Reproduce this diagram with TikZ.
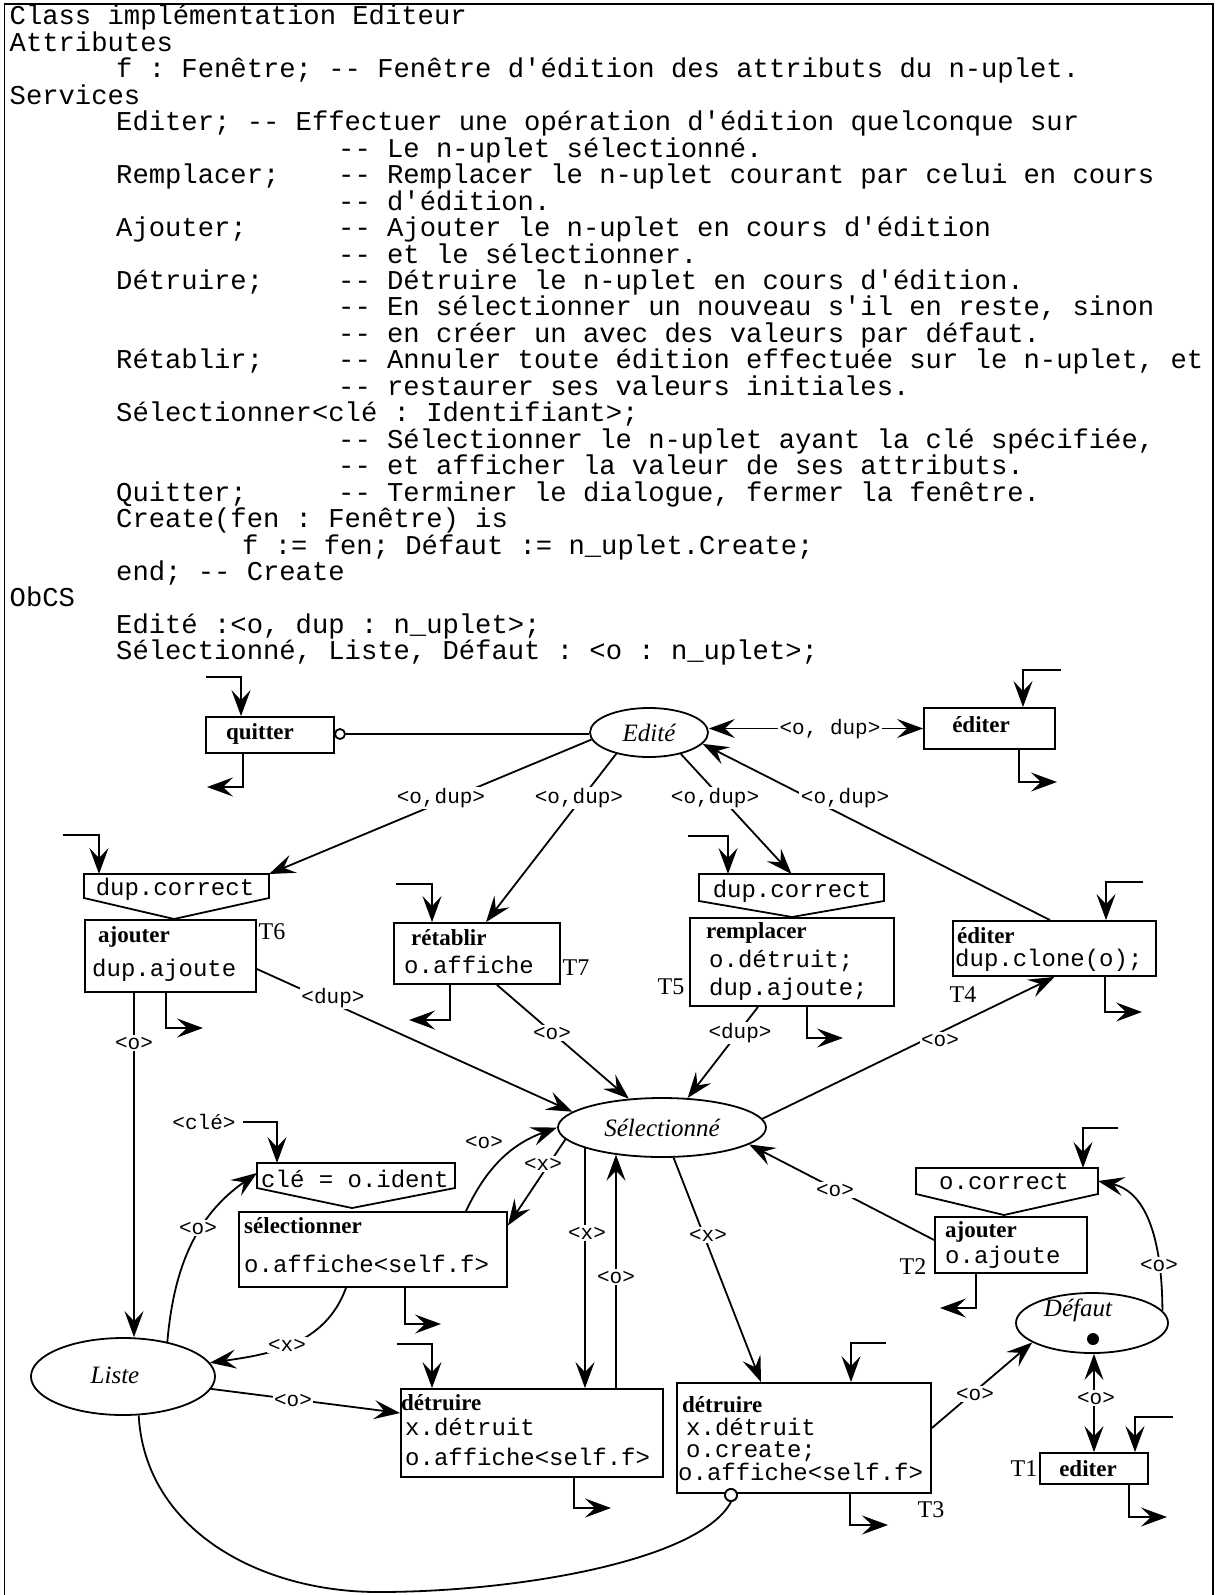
\documentclass[tikz,border=0pt]{standalone}
\usepackage{fontspec}
\setmainfont{Liberation Serif}
\setmonofont{Liberation Mono}
\usetikzlibrary{arrows.meta,shapes.geometric}
\tikzset{
  ln/.style={line width=1.8pt},
  conn/.style={ln, line join=miter, -{Stealth[length=26pt,width=19pt,inset=10pt]}},
  dconn/.style={ln, {Stealth[length=26pt,width=19pt,inset=10pt]}-{Stealth[length=26pt,width=19pt,inset=10pt]}},
  tbox/.style={draw, ln, rectangle, inner sep=0pt},
  plc/.style={draw, ln, ellipse, inner sep=0pt, font=\fontsize{25}{25}\selectfont\itshape},
  ptxt/.style={inner sep=0pt, font=\fontsize{25}{25}\selectfont\itshape},
  guard/.style={rectangle, inner sep=0pt, outer sep=0pt},
  hdr/.style={anchor=base west, inner sep=0pt, font=\fontsize{27.2}{26.5}\selectfont\ttfamily},
  codetxt/.style={anchor=base west, inner sep=0pt, font=\fontsize{24}{24}\selectfont\ttfamily},
  tname/.style={anchor=base west, inner sep=0pt, font=\fontsize{23}{23}\selectfont\bfseries},
  tid/.style={inner sep=0pt, font=\fontsize{24}{24}\selectfont},
  lbl/.style={fill=white, inner sep=1.5pt, font=\fontsize{21}{21}\selectfont\ttfamily},
  inh/.style={draw, ln, circle, fill=white, inner sep=0pt},
}
\begin{document}
\begin{tikzpicture}[x=1pt,y=-1pt]
\useasboundingbox (0,0) rectangle (1215,1595);
\fill[white] (0,0) rectangle (1215,1595);
\draw[ln] (4.5,1595) -- (4.5,4) -- (1213,4) -- (1213,1595);

% ---------------- header text ----------------
\node[hdr] (h1)  at (9.5,25)     {Class implémentation Editeur};
\node[hdr] (h2)  at (9.5,51.45)  {Attributes};
\node[hdr] (h3)  at (116,77.9)   {f : Fenêtre; -- Fenêtre d'édition des attributs du n-uplet.};
\node[hdr] (h4)  at (9.5,104.35) {Services};
\node[hdr] (h5)  at (116,130.8)  {Editer; -- Effectuer une opération d'édition quelconque sur};
\node[hdr] (h6)  at (338,157.25) {-- Le n-uplet sélectionné.};
\node[hdr] (h7a) at (116,183.7)  {Remplacer;};
\node[hdr] (h7b) at (338,183.7)  {-- Remplacer le n-uplet courant par celui en cours};
\node[hdr] (h8)  at (338,210.15) {-- d'édition.};
\node[hdr] (h9a) at (116,236.6)  {Ajouter;};
\node[hdr] (h9b) at (338,236.6)  {-- Ajouter le n-uplet en cours d'édition};
\node[hdr] (h10) at (338,263.05) {-- et le sélectionner.};
\node[hdr] (h11a) at (116,289.5) {Détruire;};
\node[hdr] (h11b) at (338,289.5) {-- Détruire le n-uplet en cours d'édition.};
\node[hdr] (h12) at (338,315.95) {-- En sélectionner un nouveau s'il en reste, sinon};
\node[hdr] (h13) at (338,342.4)  {-- en créer un avec des valeurs par défaut.};
\node[hdr] (h14a) at (116,368.85) {Rétablir;};
\node[hdr] (h14b) at (338,368.85) {-- Annuler toute édition effectuée sur le n-uplet, et};
\node[hdr] (h15) at (338,395.3)  {-- restaurer ses valeurs initiales.};
\node[hdr] (h16) at (116,421.75) {Sélectionner<clé : Identifiant>;};
\node[hdr] (h17) at (338,448.2)  {-- Sélectionner le n-uplet ayant la clé spécifiée,};
\node[hdr] (h18) at (338,474.65) {-- et afficher la valeur de ses attributs.};
\node[hdr] (h19a) at (116,501.1) {Quitter;};
\node[hdr] (h19b) at (338,501.1) {-- Terminer le dialogue, fermer la fenêtre.};
\node[hdr] (h20) at (116,527.55) {Create(fen : Fenêtre) is};
\node[hdr] (h21) at (242,554)    {f := fen; Défaut := n\_uplet.Create;};
\node[hdr] (h22) at (116,580.45) {end; -- Create};
\node[hdr] (h23) at (9.5,606.9)  {ObCS};
\node[hdr] (h24) at (116,633.35) {Edité :<o, dup : n\_uplet>;};
\node[hdr] (h25) at (116,659.8)  {Sélectionné, Liste, Défaut : <o : n\_uplet>;};

% ---------------- transitions ----------------
\node[tbox, minimum width=128pt, minimum height=36pt] (quitter) at (270,735) {};
\node[tbox, minimum width=131pt, minimum height=41pt] (edtop) at (989.5,728.5) {};
\node[tbox, minimum width=171pt, minimum height=72pt] (ajT6) at (170.5,956) {};
\node[tbox, minimum width=166pt, minimum height=61pt] (ret) at (477,953.5) {};
\node[tbox, minimum width=204pt, minimum height=88pt] (rem) at (792,962) {};
\node[tbox, minimum width=203pt, minimum height=55pt] (edT4) at (1054.5,948.5) {};
\node[tbox, minimum width=268pt, minimum height=75pt] (selr) at (373,1249.5) {};
\node[tbox, minimum width=262pt, minimum height=88pt] (detL) at (532,1433) {};
\node[tbox, minimum width=254pt, minimum height=110pt] (detT3) at (804,1438) {};
\node[tbox, minimum width=152pt, minimum height=56pt] (ajT2) at (1011,1245) {};
\node[tbox, minimum width=108pt, minimum height=31pt] (edT1) at (1094,1468.5) {};

% guards
\node[guard, minimum width=185pt, minimum height=24pt] (g1) at (176.5,886) {};
\coordinate (g1p) at (174,919);
\draw[ln, line join=miter] (g1.north west) -- (g1.north east) -- (g1.south east) -- (g1p) -- (g1.south west) -- cycle;
\node[guard, minimum width=185pt, minimum height=27pt] (g2) at (791.5,887.5) {};
\coordinate (g2p) at (792,917);
\draw[ln, line join=miter] (g2.north west) -- (g2.north east) -- (g2.south east) -- (g2p) -- (g2.south west) -- cycle;
\node[guard, minimum width=198pt, minimum height=25pt] (g3) at (356,1175.5) {};
\coordinate (g3p) at (352,1208);
\draw[ln, line join=miter] (g3.north west) -- (g3.north east) -- (g3.south east) -- (g3p) -- (g3.south west) -- cycle;
\node[guard, minimum width=182pt, minimum height=26pt] (g4) at (1007,1181) {};
\coordinate (g4p) at (1004,1215);
\draw[ln, line join=miter] (g4.north west) -- (g4.north east) -- (g4.south east) -- (g4p) -- (g4.south west) -- cycle;

% places
\node[plc, minimum width=118pt, minimum height=49pt] (edite) at (649,732.5) {Edité};
\node[plc, minimum width=208pt, minimum height=59pt] (sel) at (662,1127.5) {Sélectionné};
\node[plc, minimum width=184pt, minimum height=77pt] (liste) at (123,1376.5) {};
\node[ptxt] (listet) at (115,1375) {Liste};
\node[plc, minimum width=152pt, minimum height=60pt] (def) at (1092,1323) {};
\node[ptxt] (deft) at (1078,1310) {Défaut};
\node[circle, fill=black, inner sep=0pt, minimum size=12pt] (tok) at (1093,1339) {};

% texts in transitions
\node[tname, anchor=base] (tq) at (260,739) {quitter};
\node[tname, anchor=base] (tet) at (981,732) {éditer};
\node[tname] (t6a) at (98,942) {ajouter};
\node[codetxt] (t6b) at (92,976) {dup.ajoute};
\node[tid] (T6) at (272,932) {T6};
\node[tname] (t7a) at (411,945) {rétablir};
\node[codetxt] (t7b) at (404,973) {o.affiche};
\node[tid] (T7) at (576,968) {T7};
\node[tname] (t5a) at (706,938) {remplacer};
\node[codetxt] (t5b) at (709,967) {o.détruit;};
\node[codetxt] (t5c) at (709,995) {dup.ajoute;};
\node[tid] (T5) at (671,987) {T5};
\node[tname] (t4a) at (957,943) {éditer};
\node[codetxt] (t4b) at (955,966) {dup.clone(o);};
\node[tid] (T4) at (963,995) {T4};
\node[tname] (tsa) at (244,1233) {sélectionner};
\node[codetxt] (tsb) at (244,1272) {o.affiche<self.f>};
\node[tname] (tda) at (401,1410) {détruire};
\node[codetxt] (tdb) at (405,1435) {x.détruit};
\node[codetxt] (tdc) at (405,1465) {o.affiche<self.f>};
\node[tname] (t3a) at (682,1412) {détruire};
\node[codetxt] (t3b) at (686,1435) {x.détruit};
\node[codetxt] (t3c) at (686,1457) {o.create;};
\node[codetxt] (t3d) at (678,1480) {o.affiche<self.f>};
\node[tid] (T3) at (931,1510) {T3};
\node[tname] (t2a) at (945,1237) {ajouter};
\node[codetxt] (t2b) at (945,1263) {o.ajoute};
\node[tid] (T2) at (913,1267) {T2};
\node[tname, anchor=base] (t1a) at (1088,1476) {editer};
\node[tid] (T1) at (1024,1469) {T1};
\node[codetxt, anchor=base] (gt1) at (175,895) {dup.correct};
\node[codetxt, anchor=base] (gt2) at (792,897) {dup.correct};
\node[codetxt] (gt3) at (261,1187) {clé = o.ident};
\node[codetxt, anchor=base] (gt4) at (1004,1189) {o.correct};

% ---------------- connectors ----------------
\node[inh, minimum size=10pt] (inh1) at (340,734) {};
\draw[ln] (inh1.east) -- (inh1.east -| edite.west);
\draw[dconn] (edtop.west) -- (edtop.west -| edite.east);
\draw[conn] (edite.187) -- (g1.north east);
\draw[conn] (edite.213) -- ([xshift=9pt]ret.north);
\draw[conn] (edite.326) -- (g2.north);
\draw[conn] ([xshift=-4.5pt]edT4.north) -- (edite.348);

% stubs
\coordinate (qin) at (206,677);
\draw[conn] (qin) -| ([xshift=-29pt]quitter.north);
\coordinate (qout) at (207,787);
\draw[conn] ([xshift=-27pt]quitter.south) |- (qout);
\coordinate (etin) at (1061,670);
\draw[conn] (etin) -| ([xshift=33.5pt]edtop.north);
\coordinate (etout) at (1057,782);
\draw[conn] ([xshift=29.5pt]edtop.south) |- (etout);
\coordinate (g1in) at (63,835);
\draw[conn] (g1in) -| ([xshift=-77.5pt]g1.north);
\coordinate (a6out) at (203,1028);
\draw[conn] ([xshift=-4.5pt]ajT6.south) |- (a6out);
\coordinate (rin) at (396,884);
\draw[conn] (rin) -| ([xshift=-45pt]ret.north);
\coordinate (rout) at (409,1020);
\draw[conn] ([xshift=-27pt]ret.south) |- (rout);
\coordinate (g2in) at (688,836);
\draw[conn] (g2in) -| ([xshift=-63.5pt]g2.north);
\coordinate (remout) at (843,1038);
\draw[conn] ([xshift=15pt]rem.south) |- (remout);
\coordinate (e4in) at (1143,882);
\draw[conn] (e4in) -| ([xshift=51.5pt]edT4.north);
\coordinate (e4out) at (1142,1012);
\draw[conn] ([xshift=50.5pt]edT4.south) |- (e4out);
\coordinate (selout) at (441,1324);
\draw[conn] ([xshift=32pt]selr.south) |- (selout);
\coordinate (dLin) at (397,1344);
\draw[conn] (dLin) -| ([xshift=-100pt]detL.north);
\coordinate (dLout) at (611,1508);
\draw[conn] ([xshift=42pt]detL.south) |- (dLout);
\coordinate (d3in) at (886,1343);
\draw[conn] (d3in) -| ([xshift=47pt]detT3.north);
\coordinate (d3out) at (888,1525);
\draw[conn] ([xshift=46pt]detT3.south) |- (d3out);
\coordinate (g4in) at (1118,1128);
\draw[conn] (g4in) -| ([xshift=76pt]g4.north);
\coordinate (a2out) at (940,1308);
\draw[conn] ([xshift=-35pt]ajT2.south) |- (a2out);
\coordinate (e1in) at (1173,1417);
\draw[conn] (e1in) -| ([xshift=41pt]edT1.north);
\coordinate (e1out) at (1167,1517);
\draw[conn] ([xshift=35pt]edT1.south) |- (e1out);

% arcs
\draw[conn] ([xshift=-36.5pt]ajT6.south) -- ([xshift=-36.5pt]ajT6.south |- liste.north);
\draw[conn] ([yshift=-13pt]ajT6.east) -- (sel.170);
\draw[conn] ([xshift=20pt]ret.south) -- (sel.139);
\draw[conn] ([xshift=-34pt]rem.south) -- (sel.49);
\draw[conn] (sel.5) -- (edT4.south);
\draw[conn] ([yshift=5pt]ajT2.west) -- (sel.-11);
\draw[conn] ([xshift=93pt]selr.north) to[out=65,in=200] (sel.west);
\draw[conn] (sel.187) -- ([yshift=24pt]selr.east);
\draw[conn] ([xshift=-27pt]selr.south) to[out=-110,in=8] (liste.9);
\draw[conn] (liste.38) to[out=85,in=215] ([yshift=-10pt]g3.north west);
\draw[conn] (liste.-8) -- ([yshift=20pt]detL.west);
\draw[conn] (sel.195) -- (sel.195 |- detL.north);
\draw[conn] ([xshift=84pt]detL.north) -- ([xshift=84pt]detL.north |- sel.210);
\draw[conn] (sel.-69) -- ([xshift=-43pt]detT3.north);
\draw[conn] ([yshift=10pt]detT3.east) -- (def.198);
\draw[conn] (def.10) .. controls (1162,1225) and (1140,1190) .. (g4.east);
\draw[dconn] (edT1.north) -- (edT1.north |- def.south);
\node[inh, minimum size=12pt] (inh2) at (731,1495) {};
\coordinate (lbot) at (378,1592);
\draw[ln] (liste.-68) .. controls (145,1530) and (260,1592) .. (lbot)
  .. controls (520,1592) and (700,1560) .. (inh2.south);
\node[inh, minimum size=12pt] at (inh2) {};

% ---------------- labels ----------------
\node[lbl] (l1) at (830,729) {<o, dup>};
\node[lbl] (l2) at (441,798) {<o,dup>};
\node[lbl] (l3) at (579,798) {<o,dup>};
\node[lbl] (l4) at (715,798) {<o,dup>};
\node[lbl] (l5) at (845,798) {<o,dup>};
\node[lbl] (l6) at (134,1043) {<o>};
\node[lbl] (l7) at (333,998) {<dup>};
\node[lbl] (l8) at (552,1033) {<o>};
\node[lbl] (l9) at (740,1033) {<dup>};
\node[lbl] (l10) at (940,1040) {<o>};
\node[lbl] (cle) at (204,1122) {<clé>};
\draw[conn] ([xshift=6pt]cle.east) -| ([xshift=-79pt]g3.north);
\node[lbl] (l11) at (484,1142) {<o>};
\node[lbl] (l12) at (543,1164) {<x>};
\node[lbl] (l13) at (287,1345) {<x>};
\node[lbl] (l14) at (198,1228) {<o>};
\node[lbl] (l15) at (293,1400) {<o>};
\node[lbl] (l16) at (587,1233) {<x>};
\node[lbl] (l17) at (616,1277) {<o>};
\node[lbl] (l18) at (708,1235) {<x>};
\node[lbl] (l19) at (975,1394) {<o>};
\node[lbl] (l20) at (1159,1265) {<o>};
\node[lbl] (l21) at (1096,1398) {<o>};
\node[lbl] (l22) at (835,1190) {<o>};
\end{tikzpicture}
\end{document}
